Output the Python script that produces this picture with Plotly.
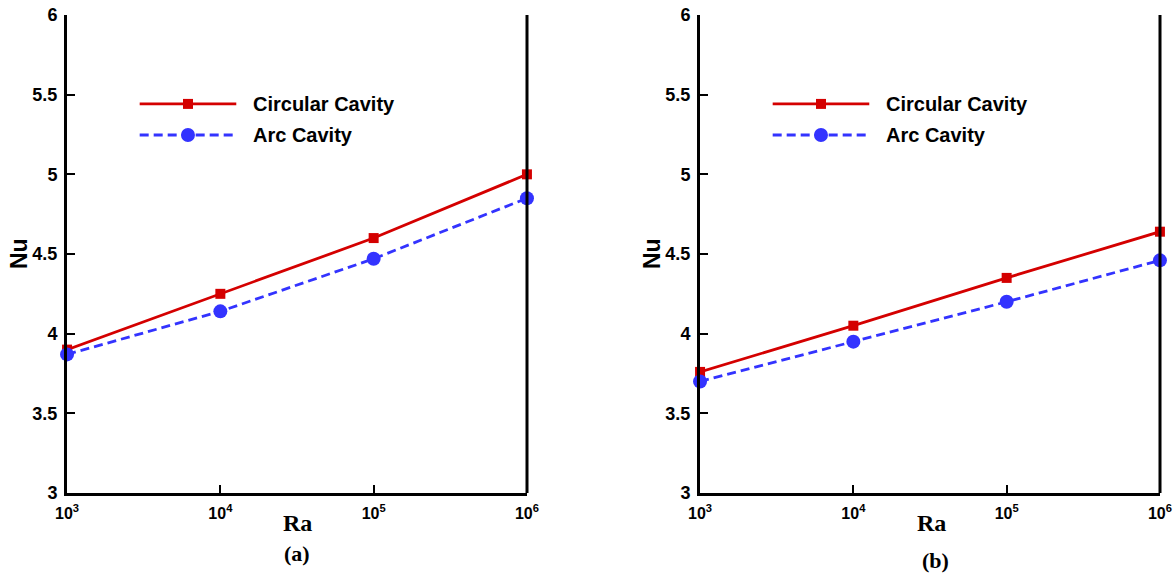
import plotly.graph_objects as go

# ---- data ----
ra = [1e3, 1e4, 1e5, 1e6]
nu_circ_a = [3.90, 4.25, 4.60, 5.00]
nu_arc_a = [3.87, 4.14, 4.47, 4.85]
nu_circ_b = [3.76, 4.05, 4.35, 4.64]
nu_arc_b = [3.70, 3.95, 4.20, 4.46]
x_tickvals = [1e3, 1e4, 1e5, 1e6]
x_ticktext = ["<b>10<sup>3</sup></b>", "<b>10<sup>4</sup></b>", "<b>10<sup>5</sup></b>", "<b>10<sup>6</sup></b>"]
y_tickvals = [3, 3.5, 4, 4.5, 5, 5.5, 6]
y_ticktext = ["<b>3</b>", "<b>3.5</b>", "<b>4</b>", "<b>4.5</b>", "<b>5</b>", "<b>5.5</b>", "<b>6</b>"]
series_names = ["Circular Cavity", "Arc Cavity"]
panel_labels = ["(a)", "(b)"]

RED = "#d40000"
BLUE = "#3333ff"
DASH = "9px,5px"
W, H = 1173, 574

def px_x(p):
    return p / W

def px_y(p):
    return 1 - p / H

fig = go.Figure()

panels = [
    ("x", "y", nu_circ_a, nu_arc_a),
    ("x2", "y2", nu_circ_b, nu_arc_b),
]
for xa, ya, circ, arc in panels:
    fig.add_trace(go.Scatter(
        x=ra, y=circ, xaxis=xa, yaxis=ya, mode="lines+markers",
        name=series_names[0], showlegend=False, cliponaxis=False,
        line=dict(color=RED, width=2.8),
        marker=dict(symbol="square", size=10, color=RED)))
    fig.add_trace(go.Scatter(
        x=ra, y=arc, xaxis=xa, yaxis=ya, mode="lines+markers",
        name=series_names[1], showlegend=False, cliponaxis=False,
        line=dict(color=BLUE, width=2.8, dash=DASH),
        marker=dict(symbol="circle", size=14, color=BLUE)))

def xaxis_cfg(domain, anchor):
    return dict(domain=domain, anchor=anchor, type="log", range=[2.9996, 6.0004],
                tickvals=x_tickvals, ticktext=x_ticktext, automargin=False,
                ticks="inside", ticklen=8, tickwidth=2, tickcolor="black",
                ticklabelstandoff=4,
                showline=True, linewidth=3, linecolor="black",
                showgrid=False, zeroline=False,
                tickfont=dict(family="Liberation Sans", size=16, color="black", weight="bold"))

def yaxis_cfg(domain, anchor):
    return dict(domain=domain, anchor=anchor, range=[3, 6],
                tickvals=y_tickvals, ticktext=y_ticktext, automargin=False,
                ticks="inside", ticklen=8, tickwidth=2, tickcolor="black",
                ticklabelstandoff=3,
                showline=True, linewidth=3, linecolor="black",
                showgrid=False, zeroline=False,
                tickfont=dict(family="Liberation Sans", size=18, color="black", weight="bold"))

ydom = [px_y(493), px_y(15)]
fig.update_layout(
    width=W, height=H,
    margin=dict(l=0, r=0, t=0, b=0, autoexpand=False),
    paper_bgcolor="white", plot_bgcolor="white",
    xaxis=xaxis_cfg([px_x(67), px_x(527)], "y"),
    yaxis=yaxis_cfg(ydom, "x"),
    xaxis2=xaxis_cfg([px_x(700), px_x(1160)], "y2"),
    yaxis2=yaxis_cfg(ydom, "x2"),
)

shapes = []
annotations = []
for i, (xa, ya) in enumerate([("x", "y"), ("x2", "y2")]):
    xd = xa + " domain"
    yd = ya + " domain"
    # right border
    shapes.append(dict(type="line", xref=xd, yref=yd, x0=1, x1=1, y0=0, y1=1,
                       line=dict(color="black", width=3)))
    # legend
    ly = [0.814, 0.749]
    for j, (col, dash, sym, half) in enumerate([(RED, "solid", "rect", 5), (BLUE, DASH, "circle", 7)]):
        shapes.append(dict(type="line", xref=xd, yref=yd, x0=0.158, x1=0.368,
                           y0=ly[j], y1=ly[j], line=dict(color=col, width=2.8, dash=dash)))
        shapes.append(dict(type=sym, xref=xd, yref=yd, xsizemode="pixel", ysizemode="pixel",
                           xanchor=0.263, yanchor=ly[j], x0=-half, x1=half, y0=-half, y1=half,
                           fillcolor=col, line=dict(color=col, width=0)))
        annotations.append(dict(xref=xd, yref=yd, x=0.401, y=ly[j], text="<b>" + series_names[j] + "</b>",
                                showarrow=False, xanchor="left", yanchor="middle",
                                font=dict(family="Liberation Sans", size=20, color="black")))

# axis titles and panel labels
for cx, nx in [(297, 19), (931, 652)]:
    annotations.append(dict(xref="paper", yref="paper", x=px_x(nx), y=px_y(254), text="<b>Nu</b>",
                            textangle=-90, showarrow=False, xanchor="center", yanchor="middle",
                            font=dict(family="Liberation Sans", size=23, color="black")))
    annotations.append(dict(xref="paper", yref="paper", x=px_x(cx), y=px_y(523), text="<b>Ra</b>",
                            showarrow=False, xanchor="center", yanchor="middle",
                            font=dict(family="Liberation Serif", size=24, color="black")))
annotations.append(dict(xref="paper", yref="paper", x=px_x(297), y=px_y(553), text="<b>" + panel_labels[0] + "</b>",
                        showarrow=False, xanchor="center", yanchor="middle",
                        font=dict(family="Liberation Serif", size=22, color="black")))
annotations.append(dict(xref="paper", yref="paper", x=px_x(935), y=px_y(560), text="<b>" + panel_labels[1] + "</b>",
                        showarrow=False, xanchor="center", yanchor="middle",
                        font=dict(family="Liberation Serif", size=22, color="black")))

fig.update_layout(shapes=shapes, annotations=annotations)
fig.write_html("out.html")
